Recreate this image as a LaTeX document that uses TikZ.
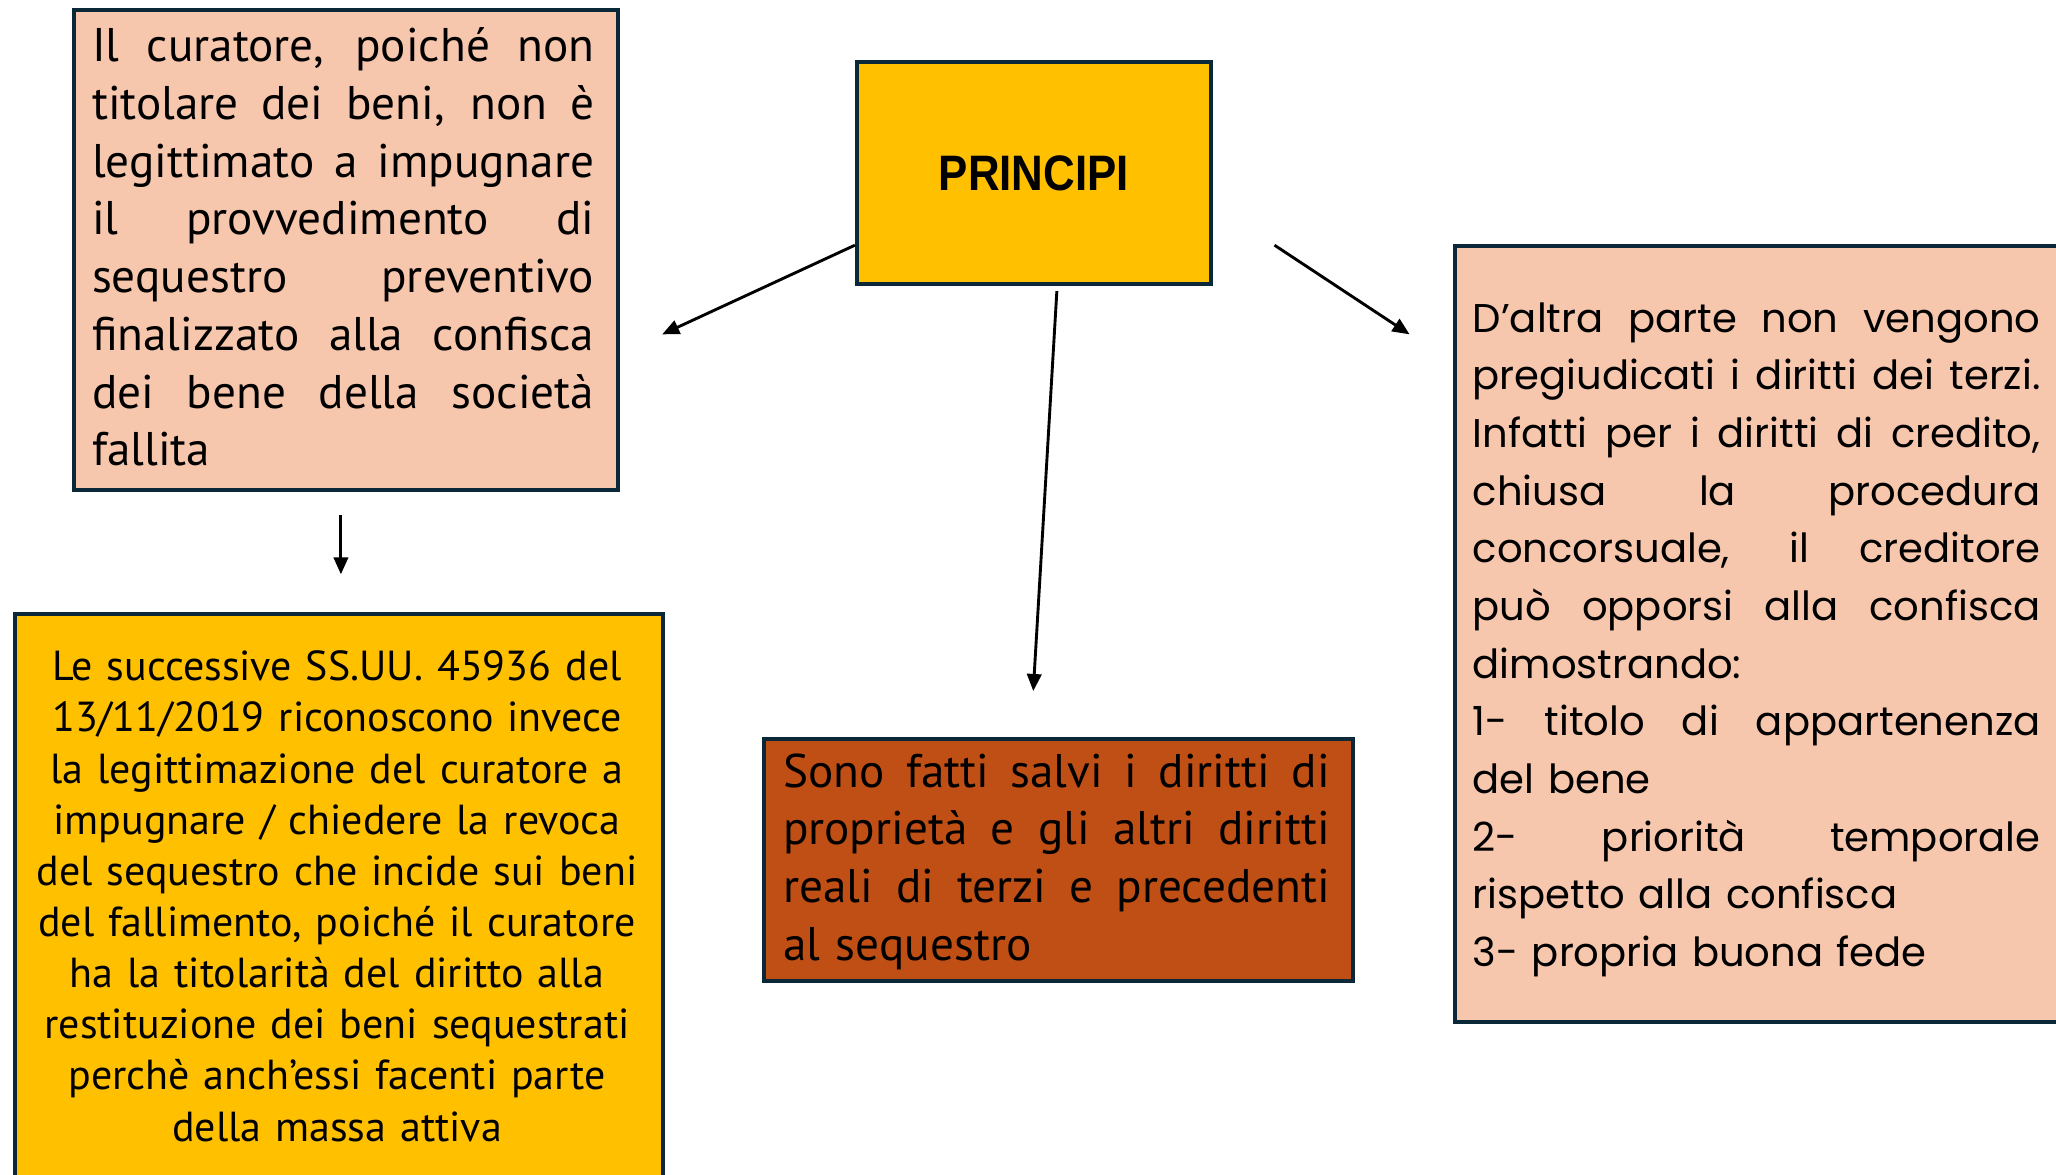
\documentclass[tikz,border=0pt]{standalone}
\usepackage{fontspec}
\setmainfont{PT Sans}
\newfontfamily\popfont{Poppins}
\newfontfamily\headfont{Liberation Sans}[FakeStretch=0.88]
\usetikzlibrary{arrows.meta}
\definecolor{salmon}{HTML}{F6C6AD}
\definecolor{gold}{HTML}{FFC000}
\definecolor{rust}{HTML}{C04F15}
\definecolor{edge}{HTML}{0B2838}
\newcommand\jl[2]{\leavevmode\hbox to #1{\spaceskip=\fontdimen2\font plus 1fil\relax #2}}
\begin{document}
\begin{tikzpicture}[x=1pt,y=-1pt,
  boxnode/.style={draw=edge, line width=3pt, inner sep=0pt, anchor=north west},
  txt/.style={inner sep=0pt, anchor=north west, align=left},
  conn/.style={line width=2.2pt, -{Triangle[length=13pt,width=11pt]}}]
\useasboundingbox[fill=white] (0,0) rectangle (1568,896);

% boxes
\node[boxnode, fill=salmon, minimum width=415pt, minimum height=366pt] (b1) at (55,6) {};
\node[boxnode, fill=gold, minimum width=270pt, minimum height=169pt] (pr) at (652,46) {};
\node[boxnode, fill=gold, minimum width=494pt, minimum height=450pt] (b2) at (10,467) {};
\node[boxnode, fill=rust, minimum width=449pt, minimum height=185pt] (b3) at (581,562) {};
\node[boxnode, fill=salmon, minimum width=480pt, minimum height=592pt] (b4) at (1108,186) {};

% texts
\node[font=\headfont\bfseries\fontsize{38}{44}\selectfont, inner sep=0pt] (prt) at (pr.center) {PRINCIPI};

\node[txt, text width=383pt, font=\fontsize{36}{44}\selectfont] (b1t) at (70,16.2) {%
\strut\jl{383pt}{Il curatore, poiché non}\\
\jl{383pt}{titolare dei beni, non è}\\
\jl{383pt}{legittimato a impugnare}\\
\jl{383pt}{il provvedimento di}\\
\jl{383pt}{sequestro preventivo}\\
\jl{383pt}{finalizzato alla confisca}\\
\jl{383pt}{dei bene della società}\\
fallita};

\node[inner sep=0pt, anchor=north, align=center, text width=490pt, font=\fontsize{32}{39}\selectfont] (b2t) at (257,491.7) {%
\strut Le successive SS.UU. 45936 del\\
13/11/2019 riconoscono invece\\
la legittimazione del curatore a\\
impugnare / chiedere la revoca\\
del sequestro che incide sui beni\\
del fallimento, poiché il curatore\\
ha la titolarità del diritto alla\\
restituzione dei beni sequestrati\\
perchè anch’essi facenti parte\\
della massa attiva};

\node[txt, text width=417pt, font=\fontsize{36}{44}\selectfont] (b3t) at (597,569.2) {%
\strut\jl{417pt}{Sono fatti salvi i diritti di}\\
\jl{417pt}{proprietà e gli altri diritti}\\
\jl{417pt}{reali di terzi e precedenti}\\
al sequestro};

\node[txt, text width=433pt, font=\popfont\fontsize{30.6}{44}\selectfont] (b4t) at (1123,222.2) {%
\strut\jl{433pt}{D’altra parte non vengono}\\
\jl{433pt}{pregiudicati i diritti dei terzi.}\\
\jl{433pt}{Infatti per i diritti di credito,}\\
\jl{433pt}{chiusa la procedura}\\
\jl{433pt}{concorsuale, il creditore}\\
\jl{433pt}{può opporsi alla confisca}\\
dimostrando:\\
\jl{433pt}{1- titolo di appartenenza}\\
del bene\\
\jl{433pt}{2- priorità temporale}\\
rispetto alla confisca\\
3- propria buona fede};

% connectors
\coordinate (a1s) at (652,187);
\coordinate (a1e) at (505,255);
\coordinate (a2s) at (806,222);
\coordinate (a2e) at (788,527);
\coordinate (a3s) at (972,187);
\coordinate (a3e) at (1075,255);
\coordinate (a4s) at (260,393);
\coordinate (a4e) at (260,438);
\draw[conn] (a1s) -- (a1e);
\draw[conn] (a2s) -- (a2e);
\draw[conn] (a3s) -- (a3e);
\draw[conn] (a4s) -- (a4e);
\end{tikzpicture}
\end{document}
